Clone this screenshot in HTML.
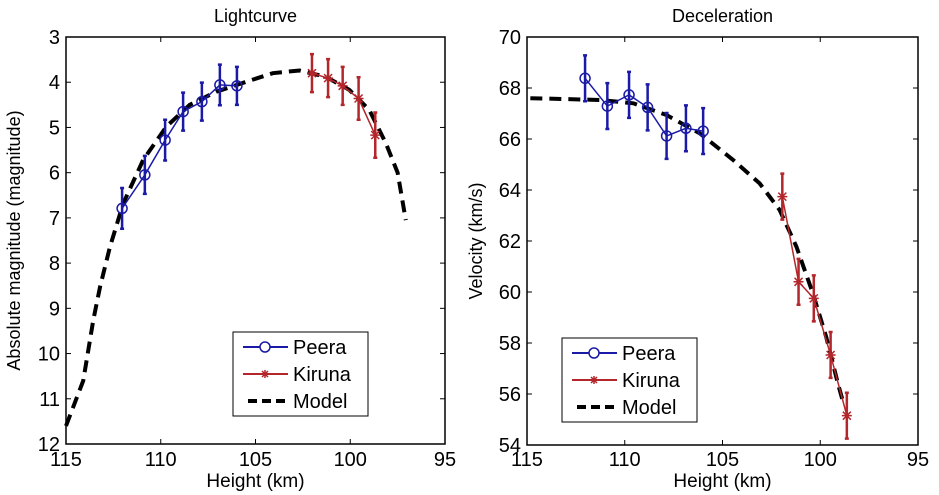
<!DOCTYPE html>
<html><head><meta charset="utf-8"><style>
html,body{margin:0;padding:0;background:#fff;}
svg{display:block;font-family:"Liberation Sans",Arial,sans-serif;}
</style></head><body>
<svg id="fig" width="939" height="495" viewBox="0 0 939 495"></svg>
<script>
// ---- Lightcurve data ----
const lcPeeraH=[112.04,110.84,109.77,108.82,107.83,106.88,105.98];
const lcPeeraM=[6.79,6.05,5.28,4.65,4.43,4.06,4.08];
const lcPeeraErr=[0.45,0.42,0.45,0.42,0.42,0.45,0.42];
const lcKirunaH=[102.02,101.17,100.4,99.56,98.68];
const lcKirunaM=[3.80,3.91,4.08,4.36,5.17];
const lcKirunaErr=[0.42,0.42,0.42,0.47,0.5];
const lcModelH=[115,114.09,113.56,113.2,112.68,111.98,110.93,109.7,108.47,107.07,105.49,104.09,102.68,101.28,100.05,99.0,98.12,97.5,97.07];
const lcModelM=[11.6,10.6,9.26,8.52,7.64,6.68,5.72,4.98,4.5,4.21,3.99,3.80,3.74,3.88,4.17,4.61,5.35,6.0,7.05];
const lcXTicks=[115,110,105,100,95];
const lcYTicks=[3,4,5,6,7,8,9,10,11,12];
// ---- Deceleration data ----
const dcPeeraH=[112.03,110.89,109.78,108.83,107.86,106.87,105.99];
const dcPeeraV=[68.38,67.29,67.73,67.24,66.12,66.42,66.31];
const dcPeeraErr=[0.9,0.9,0.9,0.9,0.9,0.9,0.9];
const dcKirunaH=[101.94,101.11,100.33,99.47,98.64];
const dcKirunaV=[63.74,60.40,59.75,57.53,55.15];
const dcKirunaErr=[0.9,0.9,0.9,0.9,0.9];
const dcModelH=[114.83,111.26,109.56,107.86,106.16,104.46,103.1,102.08,101.22,100.38,99.7,99.1,98.8];
const dcModelV=[67.6,67.53,67.4,66.94,66.22,65.18,64.26,63.22,61.78,59.95,58.25,56.42,55.6];
const dcXTicks=[115,110,105,100,95];
const dcYTicks=[54,56,58,60,62,64,66,68,70];

const NS="http://www.w3.org/2000/svg";
const svg=document.getElementById('fig');
const BLUE="#1a1aa6", RED="#b3262b";
function mk(tag,attrs,parent){const e=document.createElementNS(NS,tag);for(const k in attrs)e.setAttribute(k,attrs[k]);(parent||svg).appendChild(e);return e;}

function panel(o){
  const g=mk('g',{});
  
  
  const X=v=>o.x0+(o.xmax-v)/(o.xmax-o.xmin)*(o.x1-o.x0);
  const Y=o.invert?(v=>o.y0+(v-o.ymin)/(o.ymax-o.ymin)*(o.y1-o.y0)):(v=>o.y1-(v-o.ymin)/(o.ymax-o.ymin)*(o.y1-o.y0));
  const fr=mk('rect',{x:o.x0,y:o.y0,width:o.x1-o.x0,height:o.y1-o.y0,fill:'#fff',stroke:'#000','stroke-width':1.5},g);
  
  o.xt.forEach(t=>{const x=X(t);
    mk('line',{x1:x,y1:o.y1,x2:x,y2:o.y1-5,stroke:'#000'},g);
    mk('line',{x1:x,y1:o.y0,x2:x,y2:o.y0+5,stroke:'#000'},g);
    const tx=mk('text',{x:x,y:466,'font-size':20,'text-anchor':'middle'},g);tx.textContent=t;
    });
  o.yt.forEach(t=>{const y=Y(t);
    mk('line',{x1:o.x0,y1:y,x2:o.x0+5,y2:y,stroke:'#000'},g);
    mk('line',{x1:o.x1,y1:y,x2:o.x1-5,y2:y,stroke:'#000'},g);
    const tx=mk('text',{x:o.x0-6,y:y+7,'font-size':20,'text-anchor':'end'},g);tx.textContent=t;
    });
  const ti=mk('text',{x:(o.x0+o.x1)/2,y:22,'font-size':18,'text-anchor':'middle'},g);ti.textContent=o.title;
  
  const xl=mk('text',{x:(o.x0+o.x1)/2,y:487,'font-size':19,'text-anchor':'middle'},g);xl.textContent='Height (km)';
  
  const yl=mk('text',{x:0,y:0,'font-size':18,'text-anchor':'middle',transform:`translate(${o.ylx},${(o.y0+o.y1)/2}) rotate(-90)`},g);yl.textContent=o.ylabel;
  
  const mp=mk('polyline',{points:o.mh.map((h,i)=>X(h)+','+Y(o.mv[i])).join(' '),fill:'none',stroke:'#000','stroke-width':4,'stroke-dasharray':'12,7'},g);
  
  function series(H,V,E,col,name,marker){
    const sg=mk('g',{},g);
    mk('polyline',{points:H.map((h,i)=>X(h)+','+Y(V[i])).join(' '),fill:'none',stroke:col,'stroke-width':1.5},sg);
    H.forEach((h,i)=>{const x=X(h),y=Y(V[i]),ya=Y(V[i]-E[i]),yb=Y(V[i]+E[i]);
      const eb=mk('path',{d:`M${x},${ya}V${yb}M${x-2},${ya}H${x+2}M${x-2},${yb}H${x+2}`,stroke:col,'stroke-width':2.5,fill:'none'},sg);
      
      let m;
      if(marker==='o'){m=mk('circle',{cx:x,cy:y,r:5,fill:'none',stroke:col,'stroke-width':1.5},sg);}
      else{m=mk('path',{d:`M${x-5},${y}H${x+5}M${x},${y-5}V${y+5}M${x-4},${y-4}L${x+4},${y+4}M${x-4},${y+4}L${x+4},${y-4}`,stroke:col,'stroke-width':1.5},sg);}
      });
  }
  series(o.ph,o.pv,o.pe,BLUE,'peera','o');
  series(o.kh,o.kv,o.ke,RED,'kiruna','*');
  const L=o.leg;const lg=mk('g',{},g);
  mk('rect',{x:L.x,y:L.y,width:135,height:84,fill:'#fff',stroke:'#000','stroke-width':1},lg);
  const rows=[['Peera',BLUE,'o'],['Kiruna',RED,'*'],['Model','#000','-']];
  rows.forEach((r,i)=>{const y=L.y+15+i*27,lx=L.x+10,cx=L.x+32;
    const e=mk('g',{},lg);
    if(r[2]==='-')mk('line',{x1:lx+5,y1:y,x2:lx+45,y2:y,stroke:'#000','stroke-width':4,'stroke-dasharray':'9,5'},e);
    else{mk('line',{x1:lx,y1:y,x2:lx+45,y2:y,stroke:r[1],'stroke-width':2},e);
      if(r[2]==='o')mk('circle',{cx:cx,cy:y,r:5,fill:'#fff',stroke:r[1],'stroke-width':1.5},e);
      else mk('path',{d:`M${cx-4},${y}H${cx+4}M${cx},${y-4}V${y+4}M${cx-3},${y-3}L${cx+3},${y+3}M${cx-3},${y+3}L${cx+3},${y-3}`,stroke:r[1],'stroke-width':1.5},e);}
    const t=mk('text',{x:L.x+60,y:y+7,'font-size':20},e);t.textContent=r[0];});
}
panel({name:'lightcurve-chart',title:'Lightcurve',ylabel:'Absolute magnitude (magnitude)',x0:66,x1:445,y0:37,y1:444,xmin:95,xmax:115,ymin:3,ymax:12,invert:true,xt:lcXTicks,yt:lcYTicks,ylx:20,
  mh:lcModelH,mv:lcModelM,ph:lcPeeraH,pv:lcPeeraM,pe:lcPeeraErr,kh:lcKirunaH,kv:lcKirunaM,ke:lcKirunaErr,leg:{x:233,y:332}});
panel({name:'deceleration-chart',title:'Deceleration',ylabel:'Velocity (km/s)',x0:527,x1:918,y0:37,y1:445,xmin:95,xmax:115,ymin:54,ymax:70,invert:false,xt:dcXTicks,yt:dcYTicks,ylx:482,
  mh:dcModelH,mv:dcModelV,ph:dcPeeraH,pv:dcPeeraV,pe:dcPeeraErr,kh:dcKirunaH,kv:dcKirunaV,ke:dcKirunaErr,leg:{x:562,y:338}});
</script>
</body></html>
